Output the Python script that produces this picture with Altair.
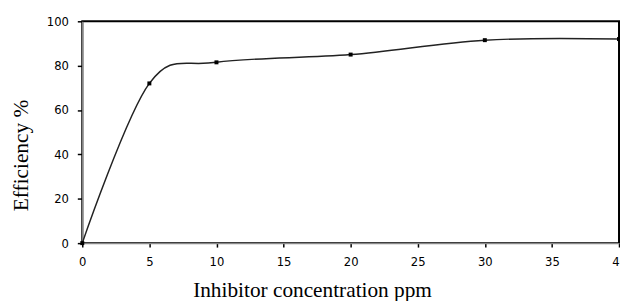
import altair as alt
import pandas as pd

conc = [0, 5, 10, 20, 30, 40]
eff = [0, 72, 81.5, 85, 91.5, 92]
x_ticks = [0, 5, 10, 15, 20, 25, 30, 35, 40]
y_ticks = [0, 20, 40, 60, 80, 100]

df = pd.DataFrame({"conc": conc, "eff": eff})

x = alt.X("conc:Q",
          scale=alt.Scale(domain=[0, 40], nice=False, zero=False),
          axis=alt.Axis(values=x_ticks, title="Inhibitor concentration ppm",
                        grid=False, domainColor="#888888", domainWidth=1.5,
                        tickColor="black", tickSize=4, tickWidth=1.5,
                        labelFont="DejaVu Sans Condensed", labelFontSize=13,
                        labelColor="black", labelPadding=9, labelFlush=False,
                        labelOverlap=False,
                        titleFont="Liberation Serif", titleFontSize=21.5,
                        titleFontWeight="normal", titleColor="black",
                        titleX=232, titleY=54, titleAlign="center",
                        titleBaseline="alphabetic"))
y = alt.Y("eff:Q",
          scale=alt.Scale(domain=[0, 100], nice=False),
          axis=alt.Axis(values=y_ticks, title="Efficiency %",
                        grid=False, domainColor="#888888", domainWidth=1.5,
                        tickColor="black", tickSize=5, tickWidth=1.5,
                        labelFont="DejaVu Sans Condensed", labelFontSize=13,
                        labelColor="black", labelPadding=9, labelFlush=False,
                        titleFont="Liberation Serif", titleFontSize=21.5,
                        titleFontWeight="normal", titleColor="black",
                        titleX=-55, titleY=135, titleAlign="center",
                        titleBaseline="alphabetic", titleAngle=270))

line = alt.Chart(df).mark_line(interpolate="cardinal", tension=0,
                               color="#222222", strokeWidth=1.5).encode(x=x, y=y)
pts = alt.Chart(df).mark_point(shape="square", filled=True, color="black",
                               size=16, opacity=1).encode(x=x, y=y)

chart = (line + pts).properties(
    width=542, height=224,
    autosize=alt.AutoSizeParams(type="none"),
    padding={"left": 75, "top": 12, "right": 1, "bottom": 57},
).configure_view(stroke="black", strokeWidth=2)

chart.save("out.html", embed_options={"renderer": "svg", "actions": False})
